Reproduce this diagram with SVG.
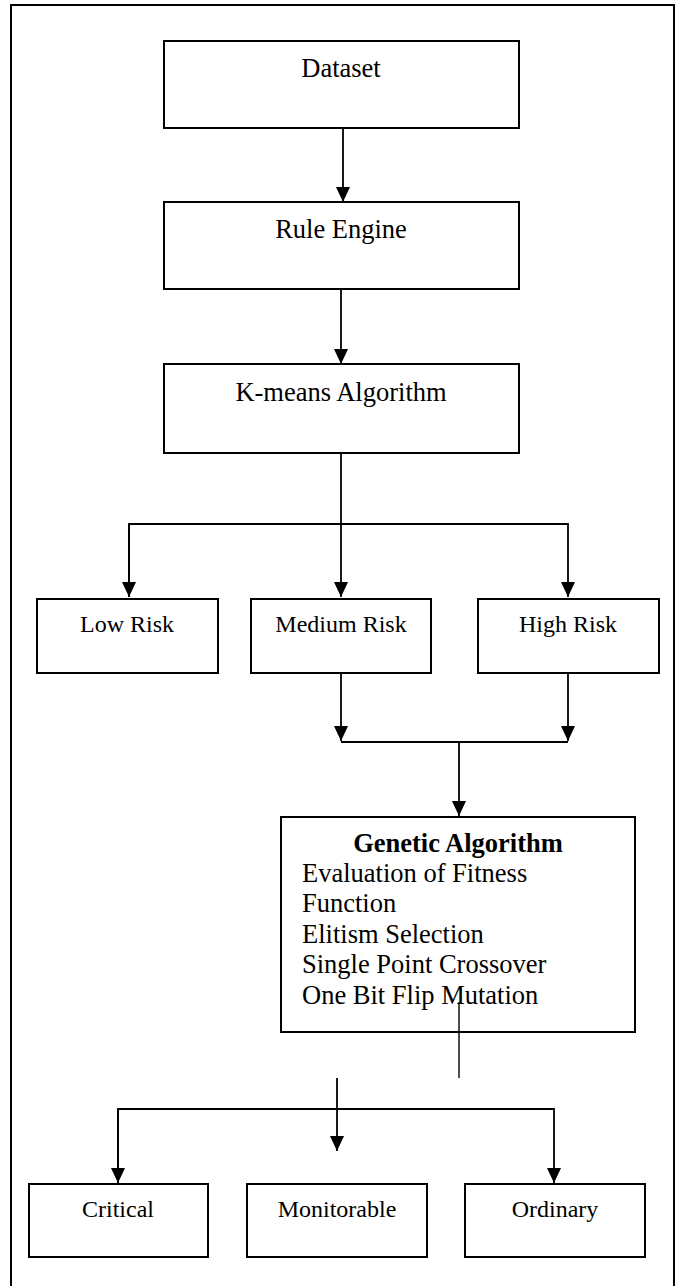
<svg xmlns="http://www.w3.org/2000/svg" width="677" height="1286" viewBox="0 0 677 1286">
<style>
.box{fill:#fff;stroke:#000;stroke-width:2}
.t{font-family:"Liberation Serif","Times New Roman",serif;font-size:26.5px;fill:#000}
.s{font-family:"Liberation Serif","Times New Roman",serif;font-size:24px;fill:#000}
.b{font-weight:bold}
.c{fill:none;stroke:#000;stroke-width:1.8}
.thin{fill:none;stroke:#000;stroke-width:1.4}
</style>
<defs>
<marker id="ah" markerWidth="15" markerHeight="14" refX="15" refY="7" orient="auto" markerUnits="userSpaceOnUse" viewBox="0 0 15 14">
<path d="M0,0 L15,7 L0,14 Z" fill="#000"/>
</marker>
</defs>
<rect width="677" height="1286" fill="#fff"/>
<path d="M11,1286 V5 H674 V1286" fill="none" stroke="#000" stroke-width="2"/>
<g id="connectors">
<path class="c" d="M343,128 V202" marker-end="url(#ah)"/>
<path class="c" d="M341,289 V364" marker-end="url(#ah)"/>
<path class="c" d="M341,453 V597" marker-end="url(#ah)"/>
<path class="c" d="M129,597 V524 H568 V597" marker-end="url(#ah)"/>
<path class="c" d="M129,524 V597" marker-end="url(#ah)"/>
<path class="c" d="M341,673 V741" marker-end="url(#ah)"/>
<path class="c" d="M568,673 V741" marker-end="url(#ah)"/>
<path class="c" d="M341,742 H568"/>
<path class="c" d="M459,742 V816" marker-end="url(#ah)"/>
<path class="thin" d="M459,1002 V1078"/>
<path class="c" d="M337,1078 V1151" marker-end="url(#ah)"/>
<path class="c" d="M118,1183 V1109 H554 V1183" marker-end="url(#ah)"/>
<path class="c" d="M118,1109 V1183" marker-end="url(#ah)"/>
</g>
<g id="dataset">
<rect class="box" x="164" y="41" width="355" height="87"/>
<text class="t" x="341" y="77" text-anchor="middle">Dataset</text>
</g>
<g id="rule-engine">
<rect class="box" x="164" y="202" width="355" height="87"/>
<text class="t" x="341" y="238" text-anchor="middle">Rule Engine</text>
</g>
<g id="kmeans">
<rect class="box" x="164" y="364" width="355" height="89"/>
<text class="t" x="341" y="401" text-anchor="middle">K-means Algorithm</text>
</g>
<g id="low-risk">
<rect class="box" x="37" y="599" width="181" height="74"/>
<text class="s" x="127" y="632" text-anchor="middle">Low Risk</text>
</g>
<g id="medium-risk">
<rect class="box" x="251" y="599" width="180" height="74"/>
<text class="s" x="341" y="632" text-anchor="middle">Medium Risk</text>
</g>
<g id="high-risk">
<rect class="box" x="478" y="599" width="181" height="74"/>
<text class="s" x="568" y="632" text-anchor="middle">High Risk</text>
</g>
<g id="genetic-algorithm">
<rect class="box" x="281" y="817" width="354" height="215"/>
<text class="t b" x="458" y="852" text-anchor="middle">Genetic Algorithm</text>
<text class="t" x="302" y="882">Evaluation of Fitness</text>
<text class="t" x="302" y="912">Function</text>
<text class="t" x="302" y="943">Elitism Selection</text>
<text class="t" x="302" y="973">Single Point Crossover</text>
<text class="t" x="302" y="1004">One Bit Flip Mutation</text>
</g>
<path class="thin" d="M459,1002 V1032"/>
<g id="critical">
<rect class="box" x="29" y="1184" width="179" height="73"/>
<text class="s" x="118" y="1217" text-anchor="middle">Critical</text>
</g>
<g id="monitorable">
<rect class="box" x="247" y="1184" width="180" height="73"/>
<text class="s" x="337" y="1217" text-anchor="middle">Monitorable</text>
</g>
<g id="ordinary">
<rect class="box" x="465" y="1184" width="180" height="73"/>
<text class="s" x="555" y="1217" text-anchor="middle">Ordinary</text>
</g>
</svg>
